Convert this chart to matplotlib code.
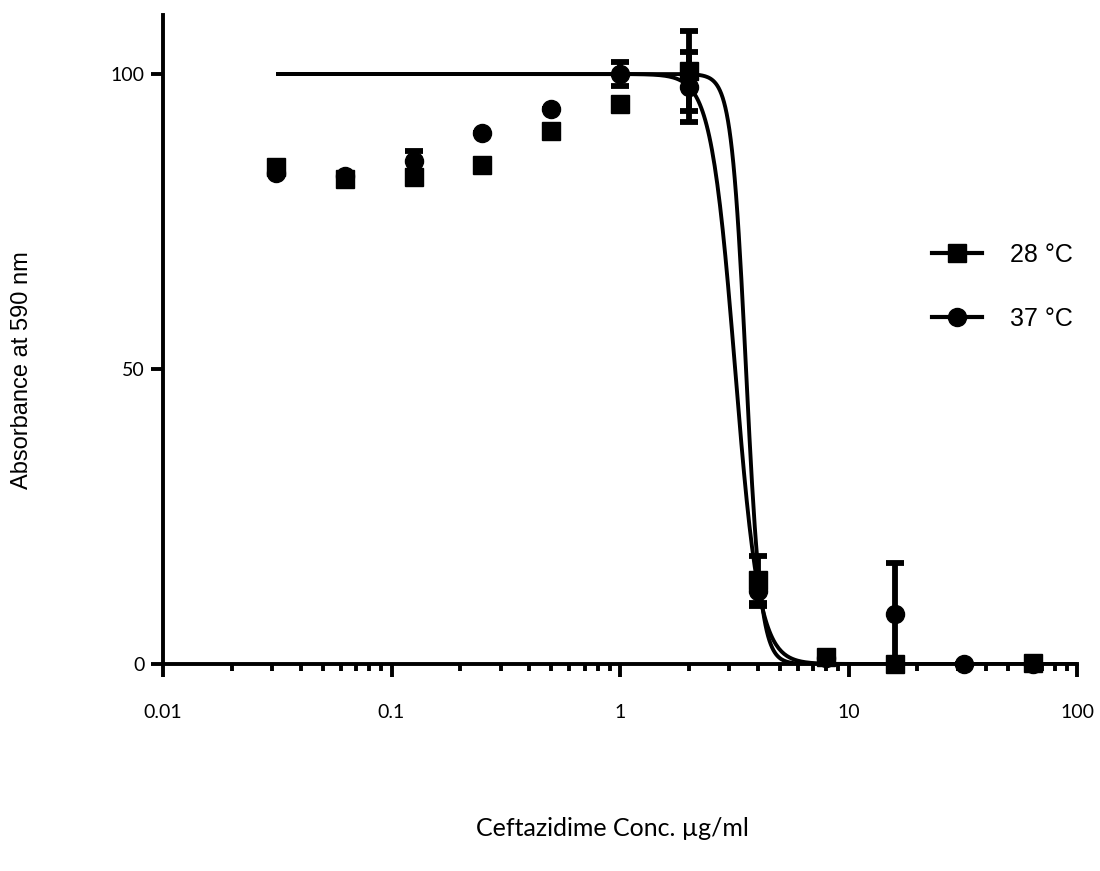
import numpy as np
import matplotlib
matplotlib.use("Agg")
import matplotlib.pyplot as plt
from matplotlib.lines import Line2D
from matplotlib.ticker import FixedLocator, FixedFormatter, LogLocator, NullFormatter

# ---- data ----
conc = [0.03125, 0.0625, 0.125, 0.25, 0.5, 1, 2, 4, 8, 16, 32, 64]
abs_28 = [84.2, 82.2, 82.5, 84.6, 90.3, 94.9, 100.5, 14.3, 1.2, 0.0, np.nan, 0.2]
err_28 = [0, 0, 0, 0, 0, 0, 6.8, 4.0, 0, 0, 0, 0]
abs_37 = [83.2, 82.7, 85.2, 90.0, 94.1, 100.0, 97.8, 12.3, 1.0, 8.5, 0.0, 0.0]
err_37 = [0, 0, 1.7, 0, 0, 2.0, 5.9, 2.5, 0, 8.6, 0, 0]

# fitted dose-response parameters (top, bottom, IC50, Hill slope)
fit_28 = dict(top=100.0, bottom=0.0, ic50=3.56, hill=13.5)
fit_37 = dict(top=100.0, bottom=0.0, ic50=3.19, hill=8.2)
fit_range = (0.03125, 100)

labels = ["28 \u00b0C", "37 \u00b0C"]
xtick_vals = [0.01, 0.1, 1, 10, 100]
xtick_labels = ["0.01", "0.1", "1", "10", "100"]
ytick_vals = [0, 50, 100]
ytick_labels = ["0", "50", "100"]


def hill(x, p):
    return p["bottom"] + (p["top"] - p["bottom"]) / (1 + (x / p["ic50"]) ** p["hill"])


fig = plt.figure(figsize=(11, 8.71), dpi=100)
ax = fig.add_axes([163 / 1100, 1 - 664 / 871, (1077 - 163) / 1100, (664 - 15) / 871])

xs = np.logspace(np.log10(fit_range[0]), np.log10(fit_range[1]), 600)
for p in (fit_28, fit_37):
    ax.plot(xs, hill(xs, p), color="black", lw=2.8, solid_capstyle="butt", zorder=3)

common = dict(color="black", ecolor="black", elinewidth=4.2, capsize=6.5, capthick=4.2,
              linestyle="none", markersize=13, clip_on=False, zorder=5)
ax.errorbar(conc, abs_37, yerr=err_37, fmt="o", **common)
ax.errorbar(conc, abs_28, yerr=err_28, fmt="s", **common)

ax.set_xscale("log")
ax.set_xlim(0.01, 100)
ax.set_ylim(0, 110)

ax.xaxis.set_major_locator(FixedLocator(xtick_vals))
ax.xaxis.set_major_formatter(FixedFormatter(xtick_labels))
ax.xaxis.set_minor_locator(LogLocator(base=10, subs=np.arange(2, 10)))
ax.xaxis.set_minor_formatter(NullFormatter())
ax.yaxis.set_major_locator(FixedLocator(ytick_vals))
ax.yaxis.set_major_formatter(FixedFormatter(ytick_labels))

for s in ("top", "right"):
    ax.spines[s].set_visible(False)
for s in ("left", "bottom"):
    ax.spines[s].set_linewidth(2.8)

ax.tick_params(axis="x", which="major", direction="out", length=9, width=2.8, pad=20,
               labelsize=14)
ax.tick_params(axis="x", which="minor", direction="out", length=5, width=2.8)
ax.tick_params(axis="y", which="major", direction="out", length=9, width=2.8, pad=4,
               labelsize=14)
for t in ax.get_xticklabels() + ax.get_yticklabels():
    t.set_family("Lato")

ax.set_xlabel("Ceftazidime Conc. \u00b5g/ml", fontsize=18, family="Lato")
ax.xaxis.set_label_coords(0.492, -0.253)
ax.xaxis.label.set_va("center")
ax.set_ylabel("Absorbance at 590 nm", fontsize=17, family="Liberation Sans")
ax.yaxis.set_label_coords(-0.154, 0.453)
ax.yaxis.label.set_va("center")

handles = [
    Line2D([], [], color="black", lw=3, marker="s", markersize=13),
    Line2D([], [], color="black", lw=3, marker="o", markersize=13),
]
leg = ax.legend(handles, labels, loc="center left",
                bbox_to_anchor=(932 / 1100, 1 - 287 / 871), bbox_transform=fig.transFigure,
                frameon=False, borderpad=0, borderaxespad=0, handlelength=2.0,
                handletextpad=1.1, labelspacing=1.6,
                prop={"family": "Liberation Sans", "size": 18})

fig.savefig("out.png", dpi=100)
